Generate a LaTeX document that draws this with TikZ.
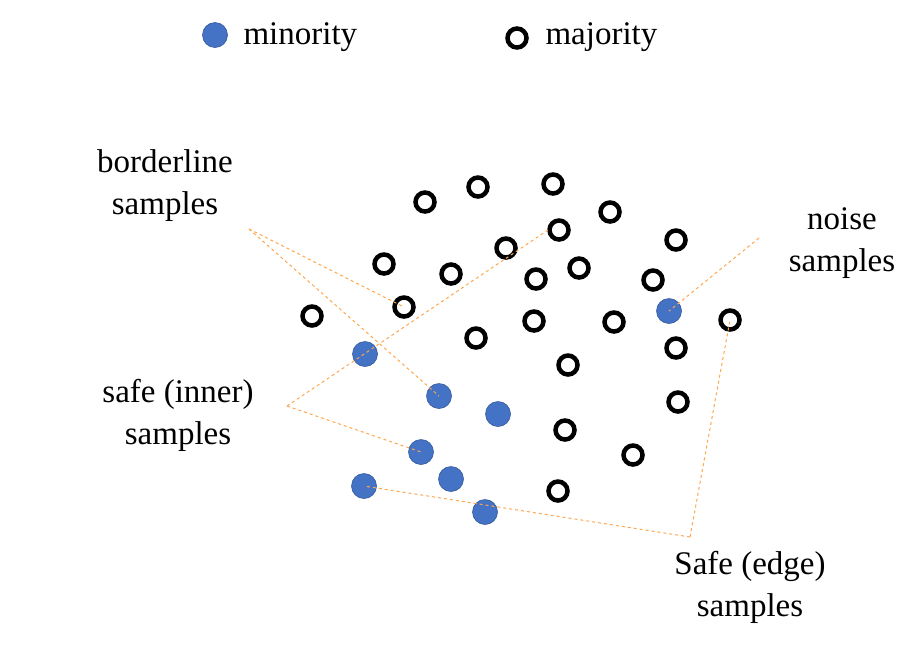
\documentclass[tikz,border=0pt]{standalone}
\usepackage{fontspec}
\setmainfont{Liberation Serif}
\begin{document}
\begin{tikzpicture}[x=1pt,y=-1pt,
  maj/.style={circle,draw=black,line width=4.5pt,minimum size=19pt,inner sep=0pt},
  mino/.style={circle,fill=minblue,draw=minblue!80!black,line width=0.6pt,minimum size=25pt,inner sep=0pt},
  lbl/.style={align=center,font=\fontsize{33}{50}\selectfont},
  guide/.style={draw=orange!70!white,dashed,line width=1pt}]
\definecolor{minblue}{HTML}{4472C4}
\useasboundingbox (0,0) rectangle (915,665);
% legend
\node[mino] (lmin) at (215,35) {};
\node[lbl,anchor=west] (tmin) at (240,37) {minority};
\node[maj] (lmaj) at (517,38) {};
\node[lbl,anchor=west] (tmaj) at (542,37) {majority};
% majority
\foreach \x/\y [count=\i] in {425/202,478/187,553/184,610/212,559/230,676/240,506/248,384/264,451/274,536/279,579/268,653/280,404/307,312/316,476/338,534/321,614/322,730/320,676/348,568/365,678/402,565/430,633/455,558/491}
  \node[maj] (M\i) at (\x,\y) {};
% minority
\foreach \x/\y [count=\i] in {669/311,365/354,439/396,498/414,421/452,451/479,364/486,485/512}
  \node[mino] (m\i) at (\x,\y) {};
% labels
\node[lbl] (bl) at (165,186) {borderline\\[-8pt]samples};
\node[lbl] (ns) at (842,243) {noise\\[-8pt]samples};
\node[lbl] (si) at (178,415) {safe (inner)\\[-8pt]samples};
\node[lbl] (se) at (750,587) {Safe (edge)\\[-8pt]samples};
% guides
\coordinate (a1) at (249,229);
\coordinate (a2) at (287,406);
\coordinate (a3) at (690,537);
\coordinate (a4) at (759,238);
\coordinate (e1) at (548,230);
\draw[guide] (a1) -- (M13.center);
\draw[guide] (a1) -- (m3.center);
\draw[guide] (a2) -- (e1);
\draw[guide] (a2) -- (m5.center);
\draw[guide] (a3) -- (m7.center);
\draw[guide] (a3) -- (M18.center);
\draw[guide] (a4) -- (m1.center);
\end{tikzpicture}
\end{document}
